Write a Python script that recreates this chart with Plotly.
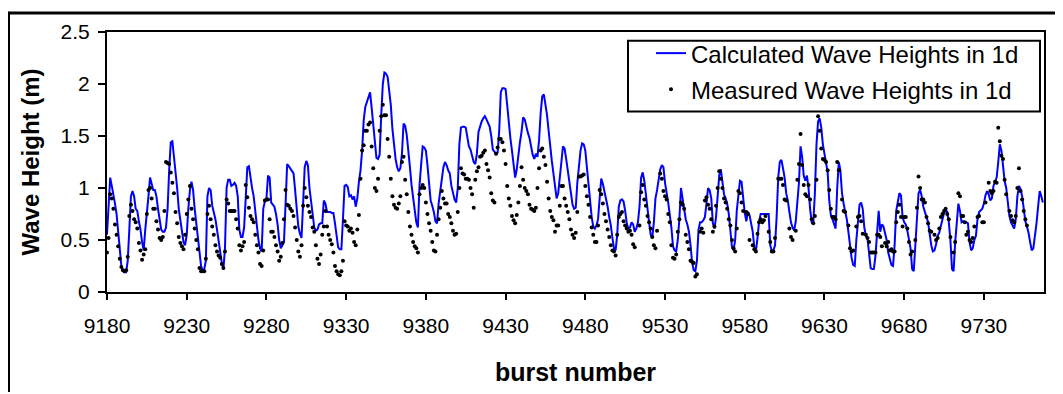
import plotly.graph_objects as go

# ---------------- data ----------------
first_burst = 9180

# Calculated wave heights in 1d, one value per burst from 9180 to 9767
calc_height = [
    0.55, 0.85, 1.10, 1.02, 0.95, 0.85, 0.75, 0.60, 0.45, 0.25,  # 9180
    0.20, 0.19, 0.19, 0.30, 0.60, 0.92, 0.97, 0.92, 0.80, 0.78,  # 9190
    0.68, 0.60, 0.48, 0.40, 0.60, 0.80, 0.92, 1.10, 1.05, 0.98,  # 9200
    0.98, 0.92, 0.80, 0.68, 0.60, 0.58, 0.58, 0.62, 0.80, 1.17,  # 9210
    1.44, 1.45, 1.30, 1.20, 1.00, 0.80, 0.68, 0.58, 0.48, 0.45,  # 9220
    0.55, 0.80, 0.98, 1.06, 0.98, 0.80, 0.65, 0.50, 0.35, 0.25,  # 9230
    0.21, 0.22, 0.30, 0.92, 1.00, 0.98, 0.83, 0.77, 0.70, 0.60,  # 9240
    0.48, 0.35, 0.28, 0.22, 0.42, 1.00, 1.08, 1.08, 1.02, 1.03,  # 9250
    1.05, 1.02, 0.92, 0.60, 0.53, 0.53, 0.62, 0.90, 1.20, 1.21,  # 9260
    1.08, 1.00, 0.92, 0.78, 0.62, 0.50, 0.42, 0.39, 0.80, 0.87,  # 9270
    0.90, 1.12, 1.10, 0.86, 0.84, 0.82, 0.75, 0.65, 0.50, 0.42,  # 9280
    0.45, 0.48, 0.85, 1.23, 1.21, 1.19, 1.16, 1.14, 0.98, 0.78,  # 9290
    0.63, 0.56, 0.52, 0.85, 1.20, 1.26, 1.22, 1.00, 0.85, 0.72,  # 9300
    0.62, 0.59, 0.60, 0.65, 0.66, 0.66, 0.88, 0.85, 0.77, 0.77,  # 9310
    0.77, 0.76, 0.76, 0.66, 0.53, 0.43, 0.41, 0.41, 0.70, 1.02,  # 9320
    1.03, 1.01, 0.92, 0.93, 0.89, 0.92, 0.82, 0.90, 1.06, 1.17,  # 9330
    1.36, 1.65, 1.78, 1.83, 1.86, 1.92, 1.77, 1.58, 1.44, 1.29,  # 9340
    1.28, 1.32, 1.70, 2.00, 2.11, 2.10, 2.07, 1.92, 1.80, 1.57,  # 9350
    1.42, 1.28, 1.20, 1.16, 1.19, 1.33, 1.62, 1.60, 1.51, 1.38,  # 9360
    1.20, 1.03, 0.90, 0.77, 0.67, 0.62, 1.02, 1.22, 1.40, 1.39,  # 9370
    1.36, 1.22, 1.06, 0.88, 0.83, 0.77, 0.68, 0.66, 0.85, 0.98,  # 9380
    1.10, 1.20, 1.25, 1.22, 1.17, 1.14, 1.02, 0.95, 0.89, 0.86,  # 9390
    1.00, 1.42, 1.58, 1.59, 1.59, 1.58, 1.48, 1.40, 1.37, 1.32,  # 9400
    1.25, 1.23, 1.33, 1.54, 1.60, 1.64, 1.67, 1.69, 1.66, 1.62,  # 9410
    1.59, 1.50, 1.37, 1.35, 1.33, 1.34, 1.55, 1.92, 1.96, 1.96,  # 9420
    1.95, 1.80, 1.62, 1.48, 1.36, 1.24, 1.10, 1.18, 1.33, 1.44,  # 9430
    1.54, 1.68, 1.66, 1.58, 1.53, 1.48, 1.40, 1.32, 1.28, 1.33,  # 9440
    1.30, 1.46, 1.72, 1.88, 1.90, 1.80, 1.70, 1.55, 1.38, 1.26,  # 9450
    1.14, 1.00, 0.90, 0.95, 1.08, 1.25, 1.40, 1.38, 1.28, 1.17,  # 9460
    1.08, 0.98, 0.84, 0.80, 0.81, 1.05, 1.25, 1.36, 1.43, 1.42,  # 9470
    1.36, 1.18, 1.00, 0.85, 0.72, 0.63, 0.61, 0.64, 0.70, 0.90,  # 9480
    1.09, 1.04, 0.97, 0.90, 0.82, 0.72, 0.64, 0.52, 0.42, 0.40,  # 9490
    0.55, 0.82, 0.88, 0.89, 0.87, 0.78, 0.66, 0.61, 0.62, 0.67,  # 9500
    0.65, 0.58, 0.61, 0.67, 0.82, 1.10, 1.15, 1.07, 0.92, 0.80,  # 9510
    0.67, 0.55, 0.52, 0.67, 0.90, 0.98, 1.08, 1.18, 1.22, 1.20,  # 9520
    1.05, 0.97, 0.86, 0.74, 0.62, 0.44, 0.40, 0.39, 0.50, 0.70,  # 9530
    1.00, 0.90, 0.80, 0.70, 0.65, 0.58, 0.45, 0.28, 0.21, 0.20,  # 9540
    0.30, 0.60, 0.67, 0.67, 0.69, 0.72, 0.85, 1.00, 0.98, 0.90,  # 9550
    0.66, 0.61, 0.72, 0.95, 1.12, 1.18, 1.06, 0.94, 0.90, 0.85,  # 9560
    0.75, 0.55, 0.43, 0.40, 0.50, 0.78, 0.96, 1.07, 1.06, 0.90,  # 9570
    0.76, 0.68, 0.77, 0.74, 0.66, 0.58, 0.43, 0.39, 0.52, 0.68,  # 9580
    0.75, 0.75, 0.75, 0.75, 0.75, 0.75, 0.45, 0.39, 0.40, 0.45,  # 9590
    0.72, 1.10, 1.25, 1.27, 1.19, 1.10, 0.95, 0.88, 0.77, 0.67,  # 9600
    0.62, 0.59, 0.68, 0.87, 1.05, 1.40, 1.30, 1.12, 1.07, 1.12,  # 9610
    1.00, 0.80, 0.67, 0.67, 0.95, 1.42, 1.64, 1.67, 1.58, 1.42,  # 9620
    1.32, 1.26, 1.15, 0.88, 0.74, 0.70, 0.66, 0.61, 1.00, 1.25,  # 9630
    1.17, 0.95, 0.85, 0.78, 0.70, 0.58, 0.45, 0.33, 0.26, 0.25,  # 9640
    0.50, 0.72, 0.84, 0.86, 0.80, 0.62, 0.54, 0.51, 0.35, 0.23,  # 9650
    0.22, 0.22, 0.35, 0.60, 0.78, 0.58, 0.65, 0.63, 0.57, 0.50,  # 9660
    0.38, 0.33, 0.26, 0.25, 0.45, 0.78, 0.85, 0.95, 0.93, 0.72,  # 9670
    0.67, 0.65, 0.59, 0.50, 0.42, 0.22, 0.20, 0.45, 0.74, 0.95,  # 9680
    0.98, 0.92, 0.82, 0.76, 0.72, 0.67, 0.55, 0.45, 0.39, 0.40,  # 9690
    0.46, 0.54, 0.57, 0.64, 0.72, 0.76, 0.79, 0.77, 0.67, 0.50,  # 9700
    0.22, 0.20, 0.48, 0.72, 0.85, 0.78, 0.67, 0.68, 0.67, 0.67,  # 9710
    0.66, 0.48, 0.40, 0.42, 0.50, 0.54, 0.70, 0.77, 0.79, 0.80,  # 9720
    0.85, 0.93, 0.97, 0.94, 0.88, 0.90, 1.02, 1.07, 1.10, 1.25,  # 9730
    1.42, 1.36, 1.20, 1.07, 1.00, 0.86, 0.73, 0.67, 0.64, 0.61,  # 9740
    0.70, 0.92, 1.02, 0.99, 0.92, 0.78, 0.68, 0.63, 0.57, 0.48,  # 9750
    0.40, 0.42, 0.52, 0.66, 0.82, 0.97, 0.92, 0.86,              # 9760
]

# Measured wave heights in 1d, one value per burst from 9180 (None = no dot)
meas_height = [
    0.38, 0.52, 0.94, 0.90, 0.80, 0.65, 0.55, 0.44, 0.32, 0.24,  # 9180
    0.21, 0.20, 0.21, 0.34, 0.73, 0.84, 0.78, 0.70, 0.67, 0.61,  # 9190
    0.47, 0.40, 0.31, 0.36, 0.41, 0.75, 0.98, 1.00, 0.90, 0.80,  # 9200
    0.80, 0.68, 0.60, 0.52, 0.50, 0.53, 0.78, 1.25, 1.24, 1.23,  # 9210
    1.15, 1.05, 0.95, 0.77, 0.66, 0.53, 0.47, 0.44, 0.41, 0.55,  # 9220
    0.75, 0.89, 1.02, 0.80, 0.70, 0.61, 0.50, 0.41, 0.23, 0.20,  # 9230
    0.20, 0.20, 0.32, 0.75, 0.83, 0.70, 0.63, 0.55, 0.45, 0.39,  # 9240
    0.35, 0.33, 0.27, 0.23, 0.39, 0.89, 0.85, 0.78, 0.78, 0.78,  # 9250
    0.78, 0.70, 0.61, 0.45, 0.40, 0.44, 0.48, 1.03, 0.91, 0.81,  # 9260
    0.73, 0.70, 0.67, 0.55, 0.45, 0.38, 0.27, 0.25, 0.40, 0.88,  # 9270
    0.89, 0.89, 0.70, 0.58, 0.58, 0.53, 0.45, 0.39, 0.30, 0.34,  # 9280
    0.47, 0.70, 0.98, 0.84, 0.83, 0.80, 0.78, 0.73, 0.62, 0.50,  # 9290
    0.39, 0.34, 0.45, 0.83, 1.00, 0.91, 0.83, 0.77, 0.72, 0.62,  # 9300
    0.58, 0.45, 0.32, 0.27, 0.36, 0.55, 0.63, 0.78, 0.63, 0.55,  # 9310
    0.50, 0.46, 0.38, 0.25, 0.20, 0.17, 0.16, 0.20, 0.30, 0.68,  # 9320
    0.64, 0.63, 0.59, 0.61, 0.57, 0.48, 0.45, 0.60, 0.74, 1.09,  # 9330
    1.36, 1.41, 1.55, 1.55, 1.61, 1.63, 1.40, 1.19, 1.00, 0.97,  # 9340
    1.09, 1.55, 1.69, 1.80, 1.70, 1.70, 1.47, 1.30, 1.09, 0.92,  # 9350
    0.84, 0.81, 0.80, 0.85, 0.92, 1.25, 1.30, 1.08, 0.94, 0.77,  # 9360
    0.63, 0.55, 0.48, 0.44, 0.42, 0.38, 0.94, 1.00, 1.03, 1.00,  # 9370
    0.86, 0.75, 0.66, 0.59, 0.48, 0.40, 0.39, 0.55, 0.70, 0.81,  # 9380
    0.97, 0.90, 0.85, 0.85, 0.75, 0.72, 0.66, 0.59, 0.55, 0.56,  # 9390
    0.77, 1.00, 1.19, 1.14, 1.13, 1.09, 1.09, 1.08, 1.00, 0.94,  # 9400
    0.81, 1.08, 1.16, 1.20, 1.30, 1.31, 1.34, 1.36, 1.23, 1.17,  # 9410
    1.10, 0.95, 0.88, 0.86, 1.33, 1.39, 1.47, 1.47, 1.44, 1.36,  # 9420
    1.23, 1.02, 0.90, 0.83, 0.73, 0.69, 0.66, 0.74, 0.86, 1.02,  # 9430
    1.20, 1.08, 1.00, 0.97, 0.94, 0.84, 0.80, 0.79, 0.78, 0.81,  # 9440
    1.00, 1.19, 1.36, 1.38, 1.30, 1.22, 1.06, 0.90, 0.78, 0.72,  # 9450
    0.69, 0.58, 0.64, 0.64, 0.83, 1.02, 1.02, 0.90, 0.83, 0.77,  # 9460
    0.70, 0.60, 0.55, 0.52, 0.57, 0.77, 1.11, 1.11, 1.12, 1.13,  # 9470
    1.02, 0.92, 0.84, 0.72, 0.62, 0.55, 0.48, 0.48, 0.64, 0.98,  # 9480
    0.94, 0.85, 0.75, 0.68, 0.60, 0.53, 0.45, 0.40, 0.39, 0.35,  # 9490
    0.55, 0.72, 0.75, 0.77, 0.68, 0.64, 0.61, 0.58, 0.59, 0.55,  # 9500
    0.46, 0.43, None, None, 0.64, 0.96, 1.03, 0.89, 0.83, 0.73,  # 9510
    0.67, 0.61, 0.53, 0.45, 0.42, 0.59, None, 1.14, 1.09, 0.97,  # 9520
    0.92, 0.89, 0.75, 0.67, 0.45, 0.33, 0.32, 0.36, 0.58, 0.70,  # 9530
    0.86, 0.84, 0.80, 0.55, 0.48, 0.41, 0.30, 0.29, 0.28, 0.15,  # 9540
    0.17, None, 0.58, 0.61, 0.57, 0.88, 0.91, 0.84, 0.80, 0.70,  # 9550
    0.58, 0.63, 0.83, 1.00, 1.16, 1.09, 1.00, 0.90, 0.86, 0.80,  # 9560
    0.70, 0.64, 0.50, 0.42, 0.39, 0.61, 0.97, 0.95, 0.86, 0.78,  # 9570
    None, 0.77, 0.75, 0.50, None, 0.45, 0.41, 0.39, 0.56, 0.67,  # 9580
    0.70, 0.67, 0.69, 0.73, None, 0.58, 0.48, 0.39, 0.39, 0.52,  # 9590
    None, 1.09, 1.09, 1.09, 1.03, 0.89, 0.88, None, 0.61, 0.53,  # 9600
    0.50, None, 0.59, 1.08, 1.23, 1.52, 1.22, 1.03, 0.94, 0.92,  # 9610
    1.03, 0.89, 0.70, 0.66, 0.73, 1.08, 1.69, 1.55, 1.38, 1.28,  # 9620
    1.27, 1.25, 1.17, 0.98, 0.80, 0.72, 0.72, 0.70, 1.25, 1.17,  # 9630
    None, 0.89, 0.78, 0.77, None, 0.64, 0.42, 0.39, 0.40, None,  # 9640
    0.63, 0.72, 0.73, 0.68, 0.56, None, 0.55, 0.52, 0.48, 0.38,  # 9650
    0.38, 0.38, 0.38, 0.55, 0.55, 0.53, 0.44, None, 0.47, 0.44,  # 9660
    0.48, 0.40, 0.41, 0.39, 0.39, 0.67, 0.77, 0.84, 0.72, 0.63,  # 9670
    0.72, 0.72, 0.61, 0.48, 0.36, 0.39, None, 0.50, 0.81, 1.11,  # 9680
    1.00, 0.89, 0.89, 0.86, 0.72, 0.66, 0.59, 0.58, None, 0.55,  # 9690
    0.50, 0.52, 0.61, 0.72, 0.75, 0.78, 0.80, 0.75, 0.70, 0.53,  # 9700
    None, 0.38, 0.48, None, 0.95, 0.92, 0.73, 0.73, 0.67, 0.55,  # 9710
    0.58, 0.50, 0.48, 0.52, 0.63, None, 0.72, 0.73, None, 0.67,  # 9720
    0.67, 0.86, None, 1.05, 0.97, 0.95, 0.97, 1.06, 1.05, 1.58,  # 9730
    1.45, 1.31, 1.28, 1.08, 0.94, None, 0.78, 0.73, 0.69, 0.67,  # 9740
    0.73, 1.00, 1.19, 0.97, 0.89, 0.78, 0.70, 0.64,              # 9750
]

calc_burst = [first_burst + i for i in range(len(calc_height))]
meas_burst = [first_burst + i for i in range(len(meas_height))]

x_tick_vals = [9180, 9230, 9280, 9330, 9380, 9430, 9480, 9530, 9580, 9630, 9680, 9730]
y_tick_vals = [0, 0.5, 1, 1.5, 2, 2.5]
y_tick_text = ["0", "0.5", "1", "1.5", "2", "2.5"]

# ---------------- figure ----------------
# The page places the figure 8 px from the window's top-left corner,
# so the figure is sized to fill the rest of the 1063x394 window.
OFF = 8
W, H = 1063 - OFF, 394 - OFF
PLOT_L, PLOT_R, PLOT_T, PLOT_B = 107, 1044, 29, 297   # window pixels
ML, MT = PLOT_L - OFF, PLOT_T - OFF
MR, MB = W - (PLOT_R - OFF), H - (PLOT_B - OFF)
PW, PH = W - ML - MR, H - MT - MB


def px_x(px):
    return (px - OFF - ML) / PW


def px_y(py):
    return (H - MB - (py - OFF)) / PH


FONT = "Liberation Sans, Arial, Helvetica, sans-serif"

fig = go.Figure()
fig.add_trace(go.Scatter(
    x=calc_burst, y=calc_height, mode="lines",
    name="Calculated Wave Heights in 1d",
    line=dict(color="#0000FF", width=2),
    legendgroup="calc",
))
fig.add_trace(go.Scatter(
    x=meas_burst, y=meas_height, mode="markers",
    name="Measured Wave Heights in 1d",
    marker=dict(color="black", size=4, symbol="circle"),
    legendgroup="meas",
))

fig.update_layout(
    width=W, height=H,
    margin=dict(l=ML, r=MR, t=MT, b=MB, pad=0),
    paper_bgcolor="white", plot_bgcolor="white",
    font=dict(family=FONT, color="black", size=21),
    showlegend=True,
    legend=dict(
        x=px_x(651), y=px_y(28), xanchor="left", yanchor="top",
        bgcolor="rgba(0,0,0,0)", borderwidth=0,
        font=dict(family=FONT, size=24, color="black"),
        tracegroupgap=2,
    ),
)

fig.update_xaxes(
    range=[9180, 9767.7],
    tickmode="array", tickvals=x_tick_vals,
    ticks="outside", ticklen=6, tickwidth=2, tickcolor="black",
    showline=True, linecolor="black", linewidth=2, mirror=True,
    showgrid=False, zeroline=False,
    tickfont=dict(family=FONT, size=21, color="black"),
    ticklabelstandoff=8,
    title=dict(text="burst number",
               font=dict(family=FONT, size=25, color="black", weight="bold"),
               standoff=27),
)
fig.update_yaxes(
    range=[0, 2.5],
    tickmode="array", tickvals=y_tick_vals, ticktext=y_tick_text,
    ticks="outside", ticklen=7, tickwidth=2, tickcolor="black",
    showline=True, linecolor="black", linewidth=2, mirror=True,
    showgrid=False, zeroline=False,
    tickfont=dict(family=FONT, size=21, color="black"),
    ticklabelstandoff=4,
    title=dict(text="Wave Height (m)",
               font=dict(family=FONT, size=24, color="black", weight="bold"),
               standoff=14),
)

# outer chart frame (top and left edges visible in the reference)
fig.add_shape(type="line", xref="paper", yref="paper",
              x0=px_x(7), x1=px_x(1075), y0=px_y(9.5), y1=px_y(9.5),
              line=dict(color="black", width=3))
fig.add_shape(type="line", xref="paper", yref="paper",
              x0=px_x(8.5), x1=px_x(8.5), y0=px_y(8), y1=px_y(400),
              line=dict(color="black", width=3))
# legend box
fig.add_shape(type="rect", xref="paper", yref="paper",
              x0=px_x(628), x1=px_x(1040), y0=px_y(111), y1=px_y(38),
              line=dict(color="black", width=2), fillcolor="rgba(0,0,0,0)")

fig.write_html("out.html")
